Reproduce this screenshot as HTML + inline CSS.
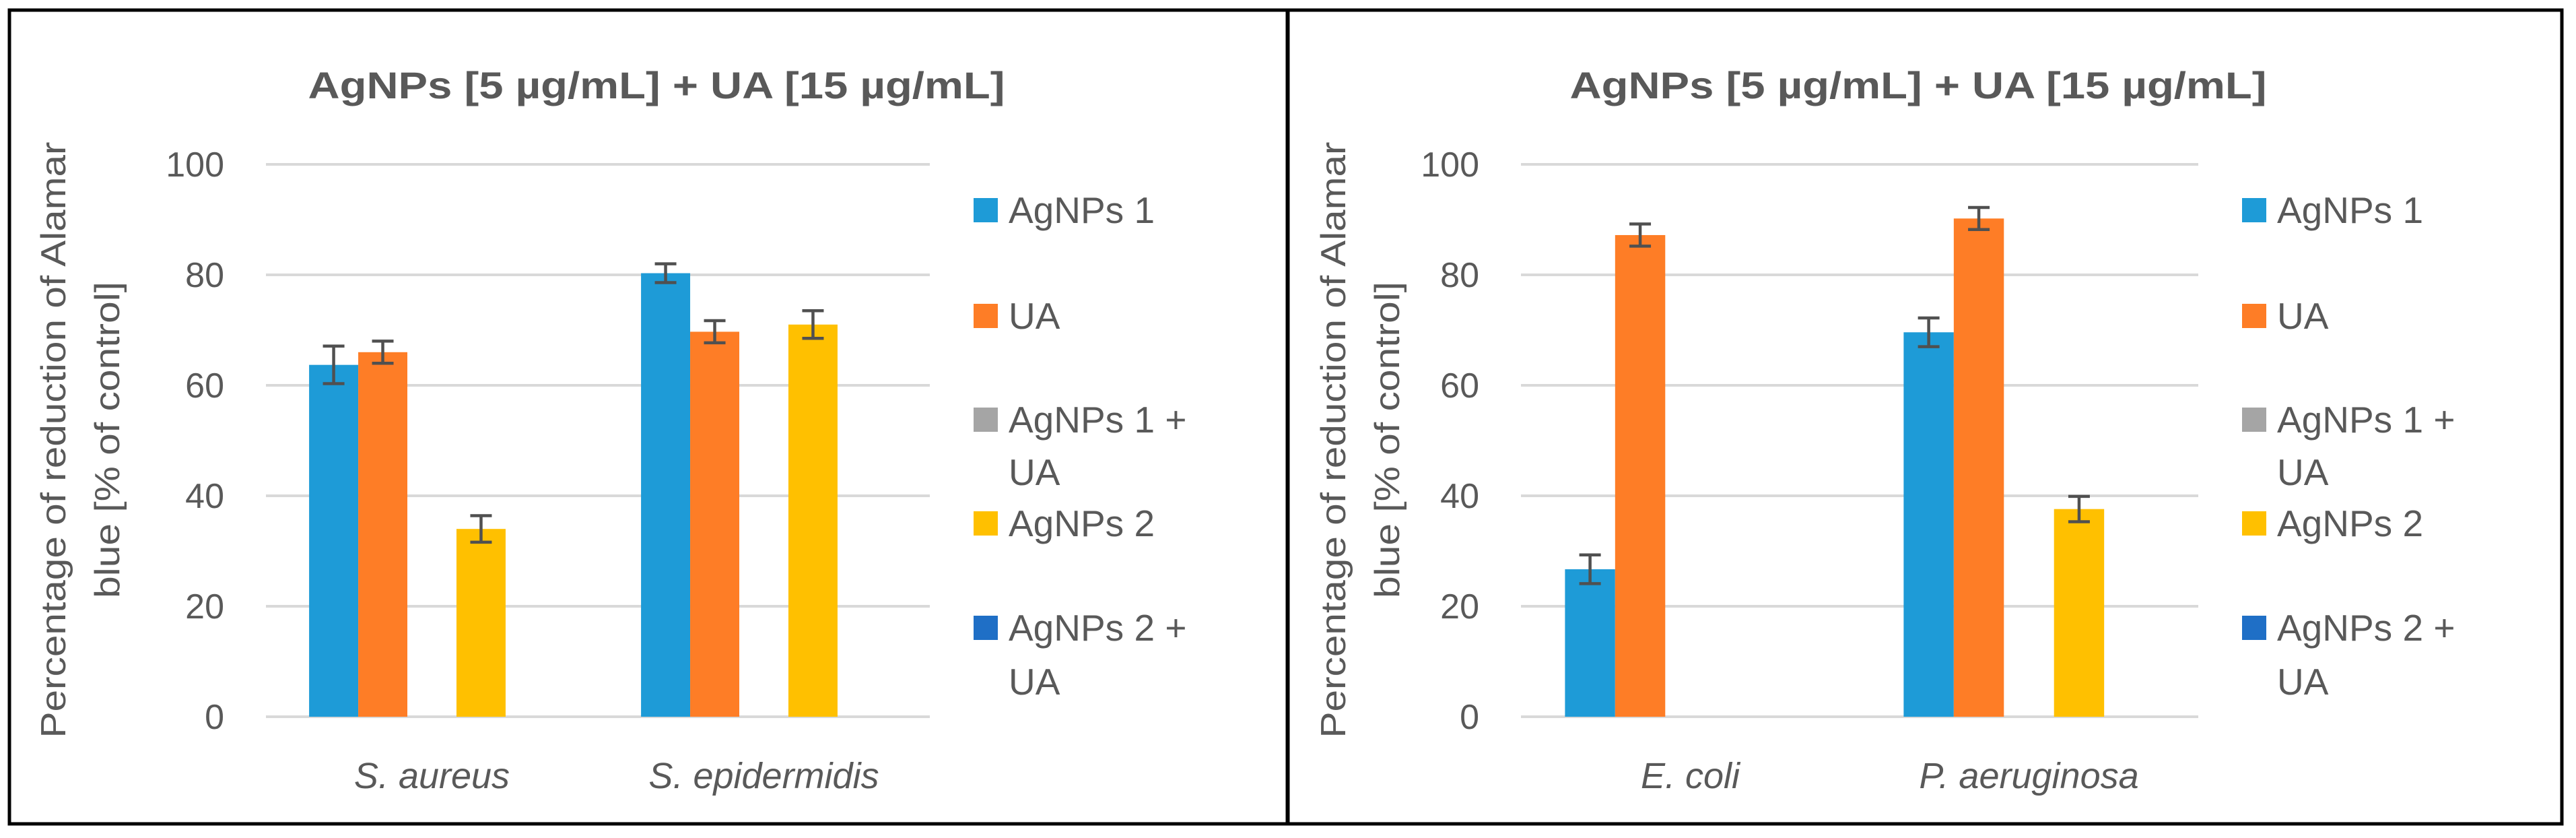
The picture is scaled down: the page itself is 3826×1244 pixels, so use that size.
<!DOCTYPE html>
<html><head><meta charset="utf-8"><style>
html,body{margin:0;padding:0;background:#fff;}
svg{display:block;}
text{font-family:"Liberation Sans",Arial,sans-serif;}
</style></head><body>
<svg id="fig" width="3826" height="1244" viewBox="0 0 3826 1244" xmlns="http://www.w3.org/2000/svg">
<rect x="0" y="0" width="3826" height="1244" fill="#fff"/>
</svg>
<script>
const NS='http://www.w3.org/2000/svg';
const seriesNames=['AgNPs 1','UA','AgNPs 1 + UA','AgNPs 2','AgNPs 2 + UA'];
const seriesColors=['#1E9BD7','#FE7D26','#A5A5A5','#FFC000','#1F6FC6'];
const leftCategories=['S. aureus','S. epidermidis'];
const leftValues=[[63.7,80.3],[66,69.7],[null,null],[34,71],[null,null]];
const leftErrors=[[3.4,1.7],[2,2],[null,null],[2.4,2.5],[null,null]];
const rightCategories=['E. coli','P. aeruginosa'];
const rightValues=[[26.7,69.6],[87.2,90.2],[null,null],[null,37.6],[null,null]];
const rightErrors=[[2.6,2.6],[2,2],[null,null],[null,2.3],[null,null]];
const yTicks=[0,20,40,60,80,100];
const titleText='AgNPs [5 µg/mL] + UA [15 µg/mL]';

const svg=document.getElementById('fig');
function el(tag,attrs,parent,txt){const e=document.createElementNS(NS,tag);for(const k in attrs)e.setAttribute(k,attrs[k]);if(txt!==undefined)e.textContent=txt;(parent||svg).appendChild(e);return e;}

function panel(ox,bx,bw,px0,px1,cats,vals,errs,key){
  const g=el('g',{});
  
  
  const border=el('rect',{x:bx,y:15,width:bw,height:1208,fill:'none',stroke:'#000','stroke-width':5},g);
  
  
  const y0=1064,y100=244;
  const ys=v=>y0-(v/100)*(y0-y100);
  const t=el('text',{x:(px0+px1)/2+87,y:146,'text-anchor':'middle','font-size':56,'font-weight':'bold',fill:'#595959',textLength:1035,lengthAdjust:'spacingAndGlyphs'},g,titleText);
  
  
  yTicks.forEach(v=>{
    const l=el('line',{x1:px0,x2:px1,y1:ys(v),y2:ys(v),stroke:'#d9d9d9','stroke-width':4},g);
    
    
    const tl=el('text',{x:px0-62,y:ys(v)+18,'text-anchor':'end','font-size':52,fill:'#595959'},g,String(v));
    
    
  });
  const cx=ox+105;
  const a1=el('text',{x:0,y:0,'text-anchor':'middle','font-size':52,fill:'#595959',transform:`translate(${cx-20},653) rotate(-90)`,textLength:885,lengthAdjust:'spacingAndGlyphs'},g,'Percentage of reduction of Alamar');
  
  
  const a2=el('text',{x:0,y:0,'text-anchor':'middle','font-size':52,fill:'#595959',transform:`translate(${cx+60},653) rotate(-90)`,textLength:470,lengthAdjust:'spacingAndGlyphs'},g,'blue [% of control]');
  
  
  const W=(px1-px0)/cats.length, bwid=W*0.148, gap=(W-5*bwid)/2;
  cats.forEach((c,ci)=>{
    const gx=px0+ci*W+gap;
    vals.forEach((sv,si)=>{
      const v=sv[ci]; if(v==null) return;
      const x=gx+si*bwid;
      const r=el('rect',{x:x,y:ys(v),width:bwid,height:ys(0)-ys(v),fill:seriesColors[si]},g);
      
      
      const e=errs[si][ci];
      if(e!=null){
        const m=x+bwid/2;
        const eg=el('g',{stroke:'#505050','stroke-width':4.5},g);
        
        
        el('line',{x1:m,x2:m,y1:ys(v+e),y2:ys(v-e)},eg);
        el('line',{x1:m-16,x2:m+16,y1:ys(v+e),y2:ys(v+e)},eg);
        el('line',{x1:m-16,x2:m+16,y1:ys(v-e),y2:ys(v-e)},eg);
      }
    });
    const cl=el('text',{x:px0+ci*W+W/2,y:1170,'text-anchor':'middle','font-size':54,'font-style':'italic',fill:'#595959'},g,c);
    
    
  });
  const lx=px1+65;
  const ly=[[312],[469],[623,701],[777],[932,1012]];
  const ltxt=[['AgNPs 1'],['UA'],['AgNPs 1 +','UA'],['AgNPs 2'],['AgNPs 2 +','UA']];
  ltxt.forEach((lines,i)=>{
    const lg=el('g',{},g);
    
    
    el('rect',{x:lx,y:ly[i][0]-18,width:36,height:36,fill:seriesColors[i]},lg);
    lines.forEach((s,j)=>el('text',{x:lx+52,y:ly[i][j]+19,'font-size':55,fill:'#595959'},lg,s));
  });
}
panel(12,14,1898,395,1381,leftCategories,leftValues,leftErrors,'left');
panel(1913,1913,1892,2259,3265,rightCategories,rightValues,rightErrors,'right');
</script>
</body></html>
